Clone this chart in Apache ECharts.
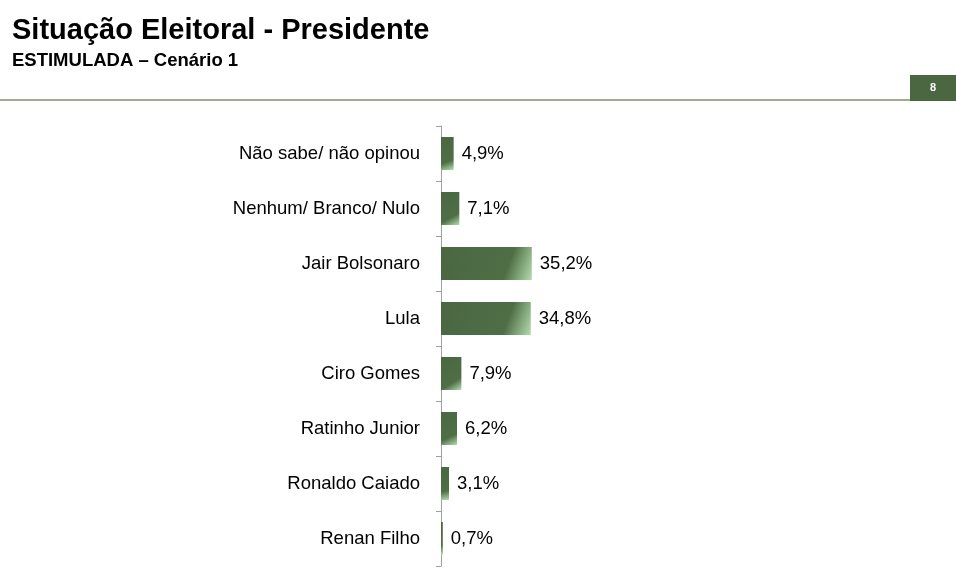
<!DOCTYPE HTML>
<html>
<head>
    <meta http-equiv="content-type" content="text/html;charset=utf-8">
    <script src="https://cdn.jsdelivr.net/npm/echarts@6/dist/echarts.min.js"></script>
    <title>Situação Eleitoral - Presidente</title>
    <style>
        html, body { margin: 0; padding: 0; background: #fff; }
        #main { width: 956px; height: 573px; }
    </style>
</head>
<body>
<div id="main"></div>
<script>
    // candidates, top to bottom
    var categories = ['Não sabe/ não opinou', 'Nenhum/ Branco/ Nulo', 'Jair Bolsonaro', 'Lula',
        'Ciro Gomes', 'Ratinho Junior', 'Ronaldo Caiado', 'Renan Filho'];
    var values = [4.9, 7.1, 35.2, 34.8, 7.9, 6.2, 3.1, 0.7];

    var myChart = echarts.init(document.getElementById('main'));
    var font = 'Liberation Sans, Arial, sans-serif';

    var option = {
        backgroundColor: '#fff',
        animation: false,
        title: [{
            text: 'Situação Eleitoral - Presidente',
            left: 7, top: 11,
            textStyle: { fontFamily: font, fontSize: 29, fontWeight: 'bold', color: '#000' }
        }, {
            text: 'ESTIMULADA – Cenário 1',
            left: 7, top: 46,
            textStyle: { fontFamily: font, fontSize: 18.5, fontWeight: 'bold', color: '#000' }
        }],
        graphic: [{
            type: 'rect',
            shape: { x: 0, y: 99, width: 910, height: 2 },
            style: { fill: '#9bb08a' }
        }, {
            type: 'rect',
            shape: { x: 910, y: 75, width: 46, height: 26 },
            style: { fill: '#4a6741' }
        }, {
            type: 'text',
            x: 933, y: 88,
            style: { text: '8', fill: '#fff', font: 'bold 11px ' + font, align: 'center', verticalAlign: 'middle' }
        }],
        grid: { left: 441, top: 126, width: 258, height: 440 },
        xAxis: {
            type: 'value', min: 0, max: 100, show: false
        },
        yAxis: {
            type: 'category',
            data: categories,
            inverse: true,
            axisLine: { show: true, lineStyle: { color: '#a0a0a0', width: 1 } },
            axisTick: { show: true, length: 5, lineStyle: { color: '#a0a0a0' } },
            axisLabel: { fontFamily: font, fontSize: 18.5, color: '#000', margin: 21 }
        },
        series: [{
            type: 'bar',
            data: values,
            barWidth: 33,
            itemStyle: {
                color: new echarts.graphic.LinearGradient(0, 0, 1, 1, [
                    { offset: 0, color: '#4a6741' },
                    { offset: 0.72, color: '#4f6e46' },
                    { offset: 1, color: '#b4dcae' }
                ])
            },
            label: {
                show: true,
                position: 'right',
                distance: 8,
                fontFamily: font,
                fontSize: 18.5,
                color: '#000',
                formatter: function (p) { return p.value.toFixed(1).replace('.', ',') + '%'; }
            }
        }]
    };
    myChart.setOption(option);
</script>
</body>
</html>
